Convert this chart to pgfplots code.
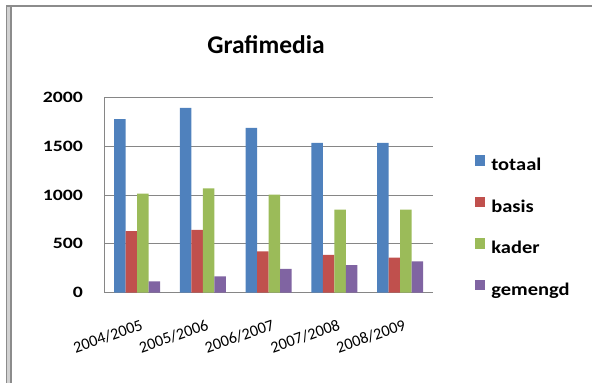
\documentclass[border=0pt]{standalone}
\usepackage{fontspec}
\setmainfont{Carlito}
\newfontfamily\wide[FakeStretch=1.25]{Carlito}
\newfontfamily\legfont[FakeStretch=1.15]{Carlito}
\usepackage{pgfplots}
\pgfplotsset{compat=1.18}
\definecolor{c1}{HTML}{4F81BD}
\definecolor{c2}{HTML}{C0504D}
\definecolor{c3}{HTML}{9BBB59}
\definecolor{c4}{HTML}{8064A2}
\definecolor{gridgray}{HTML}{868686}
\definecolor{framegray}{HTML}{8C8C8C}
\begin{document}
\begin{tikzpicture}
\begin{axis}[
  scale only axis, width=328.7pt, height=195.4pt,
  xmin=-0.5, xmax=4.5, ymin=0, ymax=2000,
  ybar=0pt, bar width=11.5pt,
  xtick={0,1,2,3,4},
  xticklabels={2004/2005,2005/2006,2006/2007,2007/2008,2008/2009},
  ytick={0,500,1000,1500,2000},
  yticklabels={0,500,1000,1500,2000},
  major tick length=0pt,
  axis x line*=bottom, axis y line*=left,
  axis line style={gridgray, line width=1pt},
  ymajorgrids, grid style={gridgray, line width=1pt},
  yticklabel style={font=\wide\bfseries\fontsize{15.8}{18}\selectfont, anchor=east, inner sep=0pt, xshift=-21.3pt},
  xticklabel style={font=\fontsize{16.2}{19}\selectfont, inner sep=0pt, xshift=3pt, yshift=-26pt, rotate=19, anchor=north east},
  title={Grafimedia},
  title style={font=\bfseries\fontsize{25.5}{30}\selectfont, at={(axis description cs:0.492,1.196)}, anchor=base, inner sep=0pt},
  legend style={at={(axis description cs:1.1257,0.705)}, anchor=north west, draw=none, fill=none, inner sep=0pt, row sep=22.1pt, column sep=6.3pt, font=\legfont\bfseries\fontsize{17.8}{20}\selectfont, nodes={inner sep=0pt, text height=14pt, text depth=4pt}},
  legend cell align=left,
  legend image code/.code={\fill[#1] (0pt,0pt) rectangle (10.5pt,10.5pt);},
]
\addplot[fill=c1, draw=none] coordinates {(0,1776) (1,1891) (2,1687) (3,1534) (4,1534)};
\addplot[fill=c2, draw=none] coordinates {(0,629) (1,643) (2,422) (3,388) (4,360)};
\addplot[fill=c3, draw=none] coordinates {(0,1014) (1,1068) (2,1003) (3,850) (4,850)};
\addplot[fill=c4, draw=none] coordinates {(0,116) (1,167) (2,245) (3,282) (4,320)};
\legend{totaal,basis,kader,gemengd}
\end{axis}
\fill[framegray] (-98.3pt,285.7pt) rectangle (487.7pt,287.7pt);
\fill[framegray] (-98.3pt,-90.3pt) rectangle (-92.3pt,287.7pt);
\fill[gray!35] (-96.8pt,-90.3pt) rectangle (-93.8pt,285.7pt);
\pgfresetboundingbox
\path[use as bounding box] (-104.3pt,-90.3pt) rectangle (487.7pt,292.7pt);
\end{tikzpicture}
\end{document}
